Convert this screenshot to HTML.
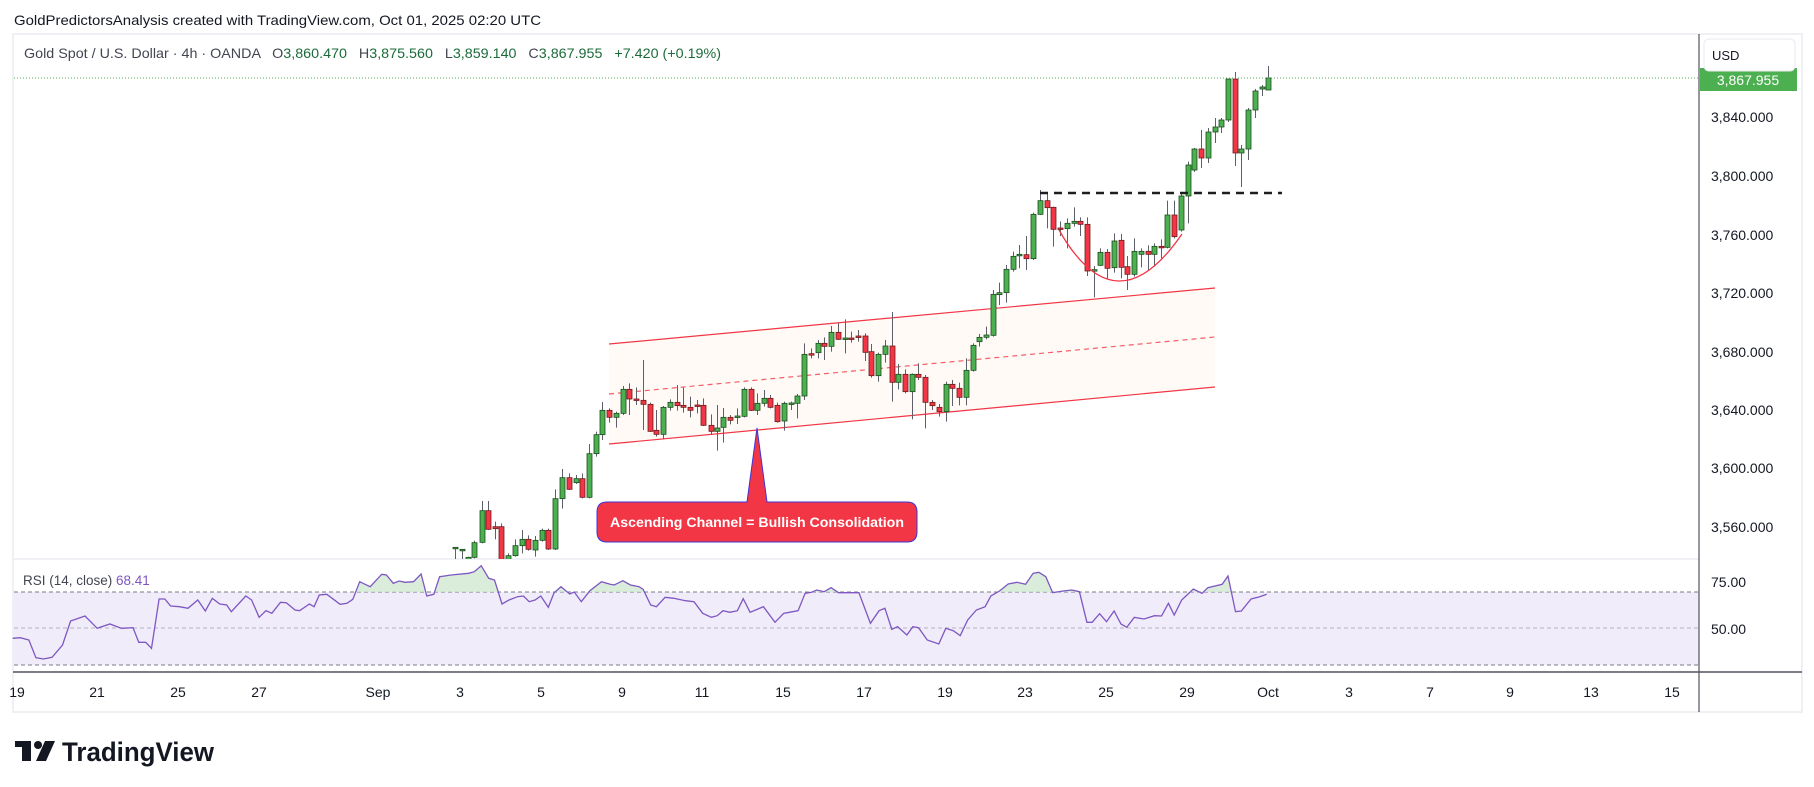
<!DOCTYPE html>
<html><head><meta charset="utf-8"><style>
html,body{margin:0;padding:0;background:#fff;width:1814px;height:787px;overflow:hidden}
svg text{font-family:"Liberation Sans",sans-serif}
</style></head><body>
<svg id="s" width="1814" height="787" viewBox="0 0 1814 787" xmlns="http://www.w3.org/2000/svg">
<defs>
<clipPath id="main"><rect x="14" y="36" width="1685" height="523"/></clipPath>
<clipPath id="rsiUp"><rect x="14" y="560" width="1685" height="32"/></clipPath>
</defs>
<rect x="0" y="0" width="1814" height="787" fill="#fff"/>
<text x="14" y="25" font-size="14" fill="#131722" textLength="527" lengthAdjust="spacingAndGlyphs">GoldPredictorsAnalysis created with TradingView.com, Oct 01, 2025 02:20 UTC</text>
<rect x="13" y="34" width="1789" height="678" fill="#fff" stroke="#eef0f4" stroke-width="2"/>
<rect x="14" y="592" width="1685" height="73" fill="#f0ecf9"/>
<line x1="14" y1="592" x2="1699" y2="592" stroke="#787b86" stroke-dasharray="4 3"/>
<line x1="14" y1="628" x2="1699" y2="628" stroke="#b2b5be" stroke-dasharray="4 3"/>
<line x1="14" y1="665" x2="1699" y2="665" stroke="#787b86" stroke-dasharray="4 3"/>
<line x1="14" y1="559" x2="1699" y2="559" stroke="#e0e3eb"/>
<line x1="13" y1="672" x2="1802" y2="672" stroke="#50535e" stroke-width="1.5"/>
<line x1="1699" y1="34" x2="1699" y2="712" stroke="#50535e" stroke-width="1.2"/>
<g id="chart" clip-path="url(#main)"></g>
<g id="rsi"></g>
<text x="24" y="58" font-size="14" textLength="697" lengthAdjust="spacingAndGlyphs" xml:space="preserve"><tspan fill="#434651">Gold Spot / U.S. Dollar · 4h · OANDA   O</tspan><tspan fill="#1b6b3a">3,860.470</tspan><tspan fill="#434651">   H</tspan><tspan fill="#1b6b3a">3,875.560</tspan><tspan fill="#434651">   L</tspan><tspan fill="#1b6b3a">3,859.140</tspan><tspan fill="#434651">   C</tspan><tspan fill="#1b6b3a">3,867.955   +7.420 (+0.19%)</tspan></text>
<line x1="14" y1="78" x2="1699" y2="78" stroke="#4caf50" stroke-dasharray="1 2"/>
<rect x="1700" y="68" width="97" height="23" fill="#4caf50"/>
<text x="1748" y="85" font-size="14" fill="#fff" text-anchor="middle">3,867.955</text>
<rect x="1704" y="39" width="91" height="32" rx="5" fill="#fff" stroke="#e8eaef"/>
<text x="1712" y="60" font-size="13" fill="#131722">USD</text>
<g font-size="14" fill="#131722">
<text x="1711" y="122">3,840.000</text>
<text x="1711" y="181">3,800.000</text>
<text x="1711" y="240">3,760.000</text>
<text x="1711" y="298">3,720.000</text>
<text x="1711" y="357">3,680.000</text>
<text x="1711" y="415">3,640.000</text>
<text x="1711" y="473">3,600.000</text>
<text x="1711" y="532">3,560.000</text>
<text x="1711" y="587">75.00</text>
<text x="1711" y="634">50.00</text>
</g>
<text x="23" y="585" font-size="13.5" fill="#434651">RSI (14, close) <tspan fill="#7e57c2">68.41</tspan></text>
<g id="taxis" font-size="14" fill="#131722" text-anchor="middle"></g>
<g fill="#131722">
<rect x="15" y="741" width="16" height="6"/><rect x="22" y="741" width="9" height="20"/>
<circle cx="38" cy="745" r="4"/>
<polygon points="45,741 55,741 46,761 36,761"/>
</g>
<text x="62" y="761" font-size="27" font-weight="bold" fill="#131722" textLength="152" lengthAdjust="spacingAndGlyphs">TradingView</text>
</svg>
<script>
const NS="http://www.w3.org/2000/svg";
function el(t,a,p){const e=document.createElementNS(NS,t);for(const k in a)e.setAttribute(k,a[k]);p.appendChild(e);return e;}
const ch=document.getElementById('chart');
el('polygon',{points:"609,344 1215,288 1215,387 609,444",fill:"#fffaf6"},ch);
el('line',{x1:609,y1:344,x2:1215,y2:288,stroke:"#f23645","stroke-width":1.2},ch);
el('line',{x1:609,y1:444,x2:1215,y2:387,stroke:"#f23645","stroke-width":1.2},ch);
el('line',{x1:609,y1:394,x2:1215,y2:337,stroke:"#f23645","stroke-width":1.2,"stroke-dasharray":"5 4",opacity:0.8},ch);
const z5=[[75,742,742,742,790,'g'],[95,748,748,748,790,'g'],[115,772,790,770,790,'g'],[133,728,772,722,775,'g'],[155,632,727,603,730,'g'],[175,632,688,603,690,'r'],[196,680,686,665,718,'r'],[214,680,800,670,800,'r'],[235,767,790,760,790,'g'],[255,737,767,718,770,'g'],[275,718,737,690,760,'g'],[295,718,748,706,752,'r'],[316,721,750,708,770,'g'],[337,691,721,686,725,'g'],[355,691,747,686,750,'r'],[376,596,747,568,750,'g'],[397,533,596,507,626,'g'],[418,533,568,520,570,'r'],[437,536,548,525,552,'g'],[457,536,592,520,595,'r'],[478,461,592,432,595,'g'],[497,404,461,395,470,'g'],[517,331,404,306,420,'g'],[538,331,352,325,368,'r'],[558,340,352,335,383,'g'],[578,268,340,258,345,'g'],[598,268,297,250,345,'r'],[619,297,299,262,315,'r'],[640,301,313,180,390,'r'],[659,313,394,308,396,'r'],[679,391,403,330,410,'r'],[700,322,403,318,418,'g'],[720,307,322,298,332,'g'],[740,307,317,255,332,'r'],[760,316,322,263,338,'r'],[780,322,331,290,352,'r'],[800,315,317,300,340,'r'],[820,316,376,295,378,'r'],[842,376,394,343,405,'r'],[862,384,394,315,452,'g'],[880,352,382,324,428,'g'],[900,352,361,345,373,'r'],[920,348,350,325,372,'g'],[942,268,349,262,352,'g'],[962,268,331,262,333,'r'],[982,310,331,280,345,'g'],[1002,295,310,270,320,'g'],[1020,295,322,285,325,'r'],[1042,316,365,308,368,'r'],[1062,310,363,305,392,'g'],[1082,309,311,305,330,'g'],[1102,288,310,282,355,'g'],[1122,163,288,130,300,'g'],[1142,161,163,145,175,'r'],[1163,130,158,120,175,'g'],[1183,130,139,112,180,'r'],[1203,97,139,78,155,'g'],[1224,97,118,70,120,'r'],[1244,114,116,58,160,'g'],[1264,114,116,95,128,'r'],[1285,108,110,90,125,'r'],[1306,108,157,100,183,'r']];
const z6=[[64,515,587,492,593,'r'],[85,523,587,518,605,'g'],[106,498,523,480,548,'g'],[127,498,607,396,665,'r'],[145,583,607,552,628,'g'],[166,583,635,568,640,'r'],[187,583,635,580,718,'g'],[205,583,592,550,600,'r'],[226,592,667,585,745,'r'],[247,667,677,660,690,'r'],[268,682,695,672,710,'r'],[287,613,695,605,725,'g'],[307,613,625,600,678,'r'],[328,625,652,608,676,'r'],[349,571,652,535,676,'g'],[368,496,571,490,575,'g'],[388,472,485,462,500,'g'],[409,465,472,440,478,'g'],[430,343,466,330,470,'g'],[448,338,344,308,375,'g'],[469,268,338,255,368,'g'],[490,229,268,215,275,'g'],[508,223,225,195,265,'g'],[529,224,236,168,270,'r'],[550,103,236,98,240,'g'],[571,62,103,30,105,'g'],[590,62,83,40,145,'r'],[610,82,148,80,200,'r'],[631,144,146,124,168,'r'],[652,130,146,115,205,'g'],[671,124,130,82,140,'g'],[691,124,133,112,168,'r'],[712,133,273,112,288,'r'],[731,269,271,258,352,'g'],[751,217,256,205,258,'g'],[772,217,265,207,298,'r'],[793,183,263,160,278,'g'],[812,181,262,162,295,'r'],[832,260,283,228,330,'r'],[853,214,283,175,290,'g'],[874,214,223,205,262,'g'],[893,214,223,196,272,'r'],[913,199,223,190,260,'g'],[934,199,201,178,235,'r'],[952,105,202,62,205,'g'],[973,105,170,62,175,'r'],[994,48,150,40,155,'g'],[1015,-45,48,-55,130,'g']];
const z2=[[497,149,170,148,172,'g'],[508,149,158,130,168,'r'],[520,132,158,128,163,'g'],[532,127,132,118,143,'g'],[543,120,127,118,133,'g'],[555,79,120,79,122,'g'],[567,79,153,72,166,'r'],[578,149,153,145,187,'g'],[590,110,149,108,160,'g'],[602,91,110,89,118,'g'],[614,87,89,85,96,'g'],[625,78,90,66,90,'g']];
const C=[];
z5.forEach(c=>C.push([430+c[0]/3,300+c[1]/3,300+c[2]/3,300+c[3]/3,300+c[4]/3,c[5]]));
z6.forEach(c=>C.push([850+c[0]/3,180+c[1]/3,180+c[2]/3,180+c[3]/3,180+c[4]/3,c[5]]));
z2.forEach(c=>C.push([907+c[0]/1.729,c[1],c[2],c[3],c[4],c[5]]));
C.forEach(c=>{
 const x=Math.round(c[0])+0.5;
 el('line',{x1:x,y1:c[3],x2:x,y2:c[4],stroke:"#5d606b","stroke-width":1},ch);
 const h=Math.max(1.5,c[2]-c[1]);
 el('rect',{x:x-2.5,y:c[1],width:5,height:h,fill:c[5]=='g'?"#4caf50":"#f23645",stroke:c[5]=='g'?"#1b4d1f":"#6d1b1b","stroke-width":0.8},ch);
});
el('line',{x1:1040,y1:193,x2:1282,y2:193,stroke:"#1e1e1e","stroke-width":2.5,"stroke-dasharray":"8 6"},ch);
el('path',{d:"M1059,230 Q1116,330 1182,234",fill:"none",stroke:"#f23645","stroke-width":1.3},ch);
el('path',{d:"M607,502 L747,502 L757,428 L767,502 L907,502 Q917,502 917,512 L917,532 Q917,542 907,542 L607,542 Q597,542 597,532 L597,512 Q597,502 607,502 Z",fill:"#f23645",stroke:"#3d35d8","stroke-width":1},ch);
const t=el('text',{x:757,y:527,"font-size":"14",fill:"#fff","font-weight":"bold","text-anchor":"middle",textLength:"294",lengthAdjust:"spacingAndGlyphs"},ch);
t.textContent="Ascending Channel = Bullish Consolidation";
const r3=[[22,715],[35,713],[50,720],[62,773],[75,777],[90,772],[108,735],[122,663],[147,648],[168,685],[190,672],[210,685],[230,683],[240,727],[252,727],[262,745],[275,597],[285,597],[295,618],[310,620],[325,625],[342,600],[355,633],[367,595],[380,612],[392,615],[400,635],[425,588],[435,600],[448,652],[460,632],[470,640],[485,607],[495,608],[510,630],[518,632],[535,612],[543,620],[552,585],[565,583],[588,613],[600,610],[610,598],[622,545],[640,560],[660,523],[668,525],[680,550],[690,543],[700,547],[715,545],[728,522],[738,588],[750,583],[760,530],[780,525],[810,520],[820,515],[832,497],[845,535],[855,540],[868,612],[880,600],[895,590],[905,588],[915,605],[925,600],[935,588],[948,622],[958,578],[970,560],[985,582],[993,576],[1005,605],[1020,572],[1040,545],[1055,553],[1062,555],[1077,542],[1090,555],[1105,560],[1112,568],[1125,615],[1135,620],[1150,592],[1165,595],[1185,602],[1200,605],[1215,640],[1230,652],[1240,647],[1250,632],[1262,637],[1275,632],[1285,596],[1297,637],[1320,620],[1340,667],[1355,640],[1365,637],[1380,632],[1392,580],[1403,577],[1412,570],[1425,575],[1437,563],[1450,578],[1470,578],[1485,578],[1505,670],[1520,632],[1530,625],[1542,688],[1552,680],[1568,705]];
const r4=[[10,680],[20,683],[35,720],[55,732],[67,685],[80,692],[92,707],[105,660],[120,630],[135,620],[145,588],[160,573],[175,552],[190,547],[205,553],[218,520],[228,517],[240,530],[252,578],[270,573],[285,570],[298,575],[311,667],[320,667],[333,641],[345,665],[358,633],[370,672],[380,682],[393,652],[410,657],[428,647],[440,648],[452,610],[462,645],[475,600],[495,567],[510,580],[520,563],[545,553],[555,528],[568,635],[578,633],[595,597],[610,590],[622,583]];
const P=[];
r3.forEach(p=>P.push([p[0]/1.729,400+p[1]/3]));
r4.forEach(p=>P.push([907+p[0]/1.729,400+p[1]/3]));
const pts=P.map(p=>p[0].toFixed(1)+","+p[1].toFixed(1)).join(" ");
const rg=document.getElementById('rsi');
el('polygon',{points:P[0][0].toFixed(1)+",592 "+pts+" "+P[P.length-1][0].toFixed(1)+",592",fill:"#cfe8d1",opacity:0.8,"clip-path":"url(#rsiUp)"},rg);
el('polyline',{points:pts,fill:"none",stroke:"#7e57c2","stroke-width":1.3},rg);
const tl=[["19",17],["21",97],["25",178],["27",259],["Sep",378],["3",460],["5",541],["9",622],["11",702],["15",783],["17",864],["19",945],["23",1025],["25",1106],["29",1187],["Oct",1268],["3",1349],["7",1430],["9",1510],["13",1591],["15",1672]];
const ta=document.getElementById('taxis');
tl.forEach(a=>{const e=el('text',{x:a[1],y:697},ta);e.textContent=a[0];});
</script>
</body></html>
